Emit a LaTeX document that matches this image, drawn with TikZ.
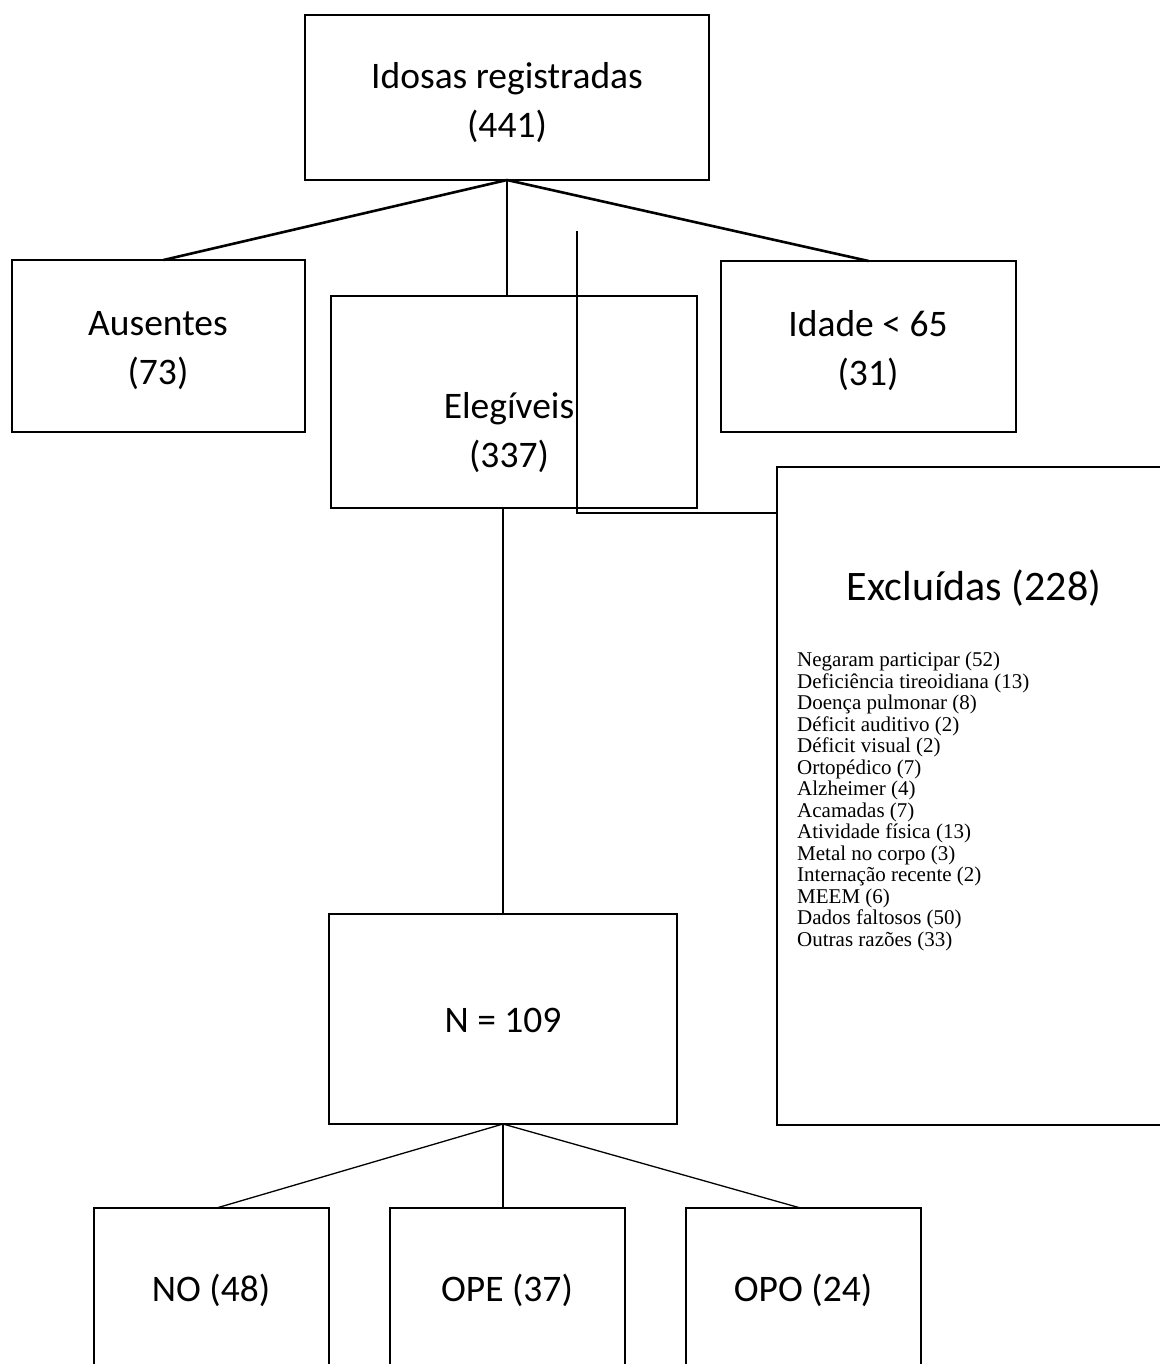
\documentclass[tikz,border=0pt]{standalone}
\usepackage{fontspec}
\setmainfont{Carlito}
\newfontfamily\tnr{Liberation Serif}
\begin{document}
\begin{tikzpicture}[x=1pt,y=-1pt,
  box/.style={draw,line width=2.6pt,inner sep=0pt,outer sep=0pt,anchor=north west},
  lbl/.style={align=center,inner sep=0pt,font=\fontsize{37.5}{49}\selectfont},
  conn/.style={line width=2.6pt},
  thin/.style={line width=1.3pt}]
\useasboundingbox (0,0) rectangle (1159,1364);
% boxes
\node[box,minimum width=404pt,minimum height=165pt] (top) at (305,15) {};
\node[box,minimum width=293pt,minimum height=172pt] (aus) at (12,260) {};
\node[box,minimum width=366pt,minimum height=212pt] (eleg) at (331,296) {};
\node[box,minimum width=295pt,minimum height=171pt] (idade) at (721,261) {};
\node[box,minimum width=420pt,minimum height=658pt] (excl) at (777,467) {};
\node[box,minimum width=348pt,minimum height=210pt] (n) at (329,914) {};
\node[box,minimum width=235pt,minimum height=200pt] (no) at (94,1208) {};
\node[box,minimum width=235pt,minimum height=200pt] (ope) at (390,1208) {};
\node[box,minimum width=235pt,minimum height=200pt] (opo) at (686,1208) {};
% texts
\node[lbl] (ttop) at (507,103) {Idosas registradas\\(441)};
\node[lbl] (taus) at (158,351) {Ausentes\\(73)};
\node[lbl] (televeg) at (509,433) {Elegíveis\\(337)};
\node[lbl] (tidade) at (868,351) {Idade < 65\\(31)};
\node[inner sep=0pt,font=\fontsize{42}{48}\selectfont] (texcl) at (974,588) {Excluídas (228)};
\node[anchor=north west,align=left,inner sep=0pt,font=\tnr\fontsize{21}{21.5}\selectfont] (tlist) at (797,652) {Negaram participar (52)\\
Deficiência tireoidiana (13)\\
Doença pulmonar (8)\\
Déficit auditivo (2)\\
Déficit visual (2)\\
Ortopédico (7)\\
Alzheimer (4)\\
Acamadas (7)\\
Atividade física (13)\\
Metal no corpo (3)\\
Internação recente (2)\\
MEEM (6)\\
Dados faltosos (50)\\
Outras razões (33)};
\node[lbl] (tn) at (503,1020) {N = 109};
\node[lbl] (tno) at (211,1290) {NO (48)};
\node[lbl] (tope) at (507,1290) {OPE (37)};
\node[lbl] (topo) at (803,1290) {OPO (24)};
% connectors
\coordinate (tail) at (577,231);
\draw[conn] (top.south) -- ([xshift=5pt]aus.north);
\draw[conn] (top.south) -- (top.south |- eleg.north);
\draw[conn] (top.south) -- (idade.north);
\draw[conn] (tail) |- (excl.west |- 0,513);
\draw[conn] (n.north |- eleg.south) -- (n.north);
\draw[thin] (n.south) -- ([xshift=5pt]no.north);
\draw[thin] (n.south) -- (n.south |- ope.north);
\draw[thin] (n.south) -- ([xshift=-3pt]opo.north);
\end{tikzpicture}
\end{document}
